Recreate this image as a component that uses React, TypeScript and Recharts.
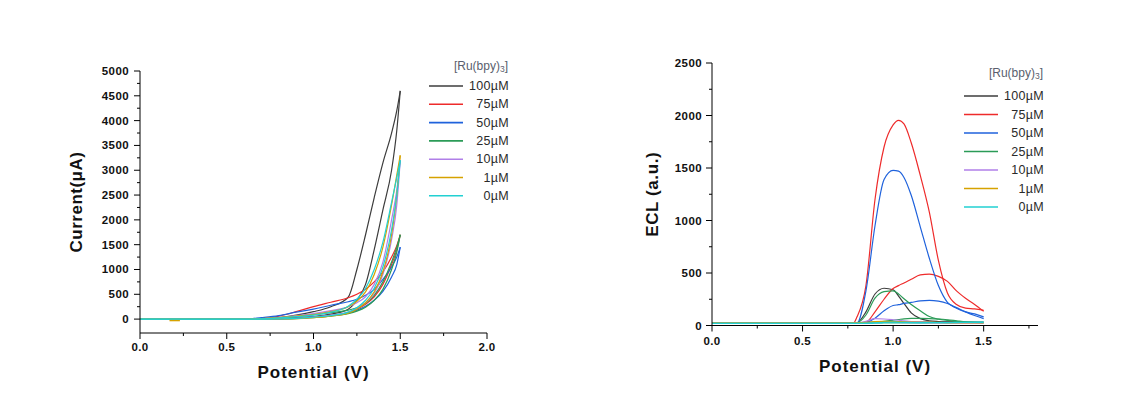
import React from 'react';
import { LineChart, Line, XAxis, YAxis } from 'recharts';

const concentrations = ['100µM', '75µM', '50µM', '25µM', '10µM', '1µM', '0µM'];
const seriesColors = ['#3c3c3c', '#ee2b2b', '#1f62dc', '#2b9b57', '#b07fe8', '#d6a200', '#22d0d2'];

// cyclic voltammograms: upper (higher current) and lower branch of each loop
const cvPotential = [0, 0.6, 0.7, 0.8, 0.9, 1.0, 1.1, 1.2, 1.25, 1.3, 1.35, 1.4, 1.45, 1.48, 1.5];
const cv100Up = [0, 0, 5, 30, 80, 150, 250, 440, 1000, 1700, 2450, 3150, 3750, 4200, 4600];
const cv100Down = [0, 0, 0, 10, 25, 50, 100, 200, 380, 700, 1400, 2200, 3000, 3800, 4600];
const cv75Up = [0, 0, 10, 60, 150, 250, 340, 430, 500, 600, 750, 950, 1250, 1480, 1700];
const cv75Down = [0, 0, 0, 10, 20, 40, 70, 130, 200, 300, 450, 700, 1100, 1400, 1700];
const cv50Up = [0, 0, 30, 70, 140, 200, 280, 350, 400, 480, 600, 800, 1050, 1250, 1450];
const cv50Down = [0, 0, 0, 10, 20, 40, 70, 120, 180, 260, 380, 560, 850, 1100, 1450];
const cv25Up = [0, 0, 0, 20, 50, 90, 130, 180, 230, 320, 480, 750, 1150, 1450, 1700];
const cv25Down = [0, 0, 0, 0, 10, 30, 60, 110, 160, 240, 380, 600, 1000, 1350, 1700];
const cv10Up = [0, 0, 5, 30, 70, 110, 170, 250, 330, 450, 700, 1150, 2000, 2600, 3200];
const cv10Down = [0, 0, 0, 5, 15, 40, 80, 140, 220, 330, 520, 900, 1600, 2300, 3200];
const cv1Up = [0, 0, 10, 30, 60, 90, 150, 250, 360, 550, 900, 1450, 2300, 2900, 3300];
const cv1Down = [0, 0, 0, 5, 10, 30, 60, 120, 200, 330, 550, 950, 1700, 2500, 3300];
const cv0Up = [0, 0, 5, 25, 50, 80, 140, 260, 400, 620, 1000, 1550, 2350, 2850, 3200];
const cv0Down = [0, 0, 0, 5, 15, 40, 70, 140, 230, 380, 620, 1050, 1800, 2500, 3200];
const cv1BlipPotential = [0.17, 0.23];
const cv1BlipCurrent = [-30, -30];

const cvPotentialTicks = [0, 0.25, 0.5, 0.75, 1.0, 1.25, 1.5, 1.75, 2.0];
const cvCurrentTicks = [0, 250, 500, 750, 1000, 1250, 1500, 1750, 2000, 2250, 2500, 2750, 3000, 3250, 3500, 3750, 4000, 4250, 4500, 4750, 5000];

// ECL: two branches (scan out and back) per concentration
const eclPotential = [0, 0.5, 0.78, 0.8, 0.85, 0.9, 0.95, 1.0, 1.03, 1.06, 1.1, 1.15, 1.2, 1.25, 1.3, 1.35, 1.4, 1.45, 1.5];
const ecl100A = [22, 22, 22, 25, 130, 300, 355, 340, 280, 210, 120, 65, 45, 38, 35, 33, 30, 30, 30];
const ecl100B = [22, 22, 22, 24, 28, 30, 32, 33, 33, 33, 33, 32, 32, 31, 30, 30, 30, 30, 30];
const ecl75A = [22, 22, 22, 80, 380, 1200, 1700, 1910, 1954, 1920, 1740, 1430, 1080, 620, 310, 200, 165, 158, 145];
const ecl75B = [22, 22, 22, 20, 30, 130, 250, 352, 380, 405, 440, 482, 490, 468, 420, 330, 260, 200, 135];
const ecl50A = [22, 22, 22, 22, 330, 950, 1390, 1478, 1470, 1410, 1240, 940, 640, 380, 220, 165, 130, 110, 82];
const ecl50B = [22, 22, 22, 22, 30, 70, 140, 190, 198, 210, 220, 235, 240, 232, 210, 170, 130, 95, 65];
const ecl25A = [22, 22, 22, 25, 100, 260, 322, 330, 300, 255, 200, 140, 85, 60, 48, 40, 35, 30, 30];
const ecl25B = [22, 22, 22, 22, 25, 35, 40, 50, 57, 64, 68, 68, 66, 62, 55, 45, 35, 30, 25];
const ecl10A = [22, 22, 22, 25, 40, 65, 62, 55, 50, 44, 38, 32, 28, 26, 25, 25, 25, 25, 25];
const ecl10B = [22, 22, 22, 22, 24, 28, 30, 30, 29, 28, 26, 25, 25, 25, 25, 25, 25, 25, 25];
const ecl1A = [24, 24, 24, 25, 30, 38, 40, 38, 36, 34, 32, 30, 30, 29, 28, 28, 28, 28, 28];
const ecl1B = [24, 24, 24, 24, 25, 27, 28, 28, 28, 28, 28, 28, 28, 28, 28, 28, 28, 28, 28];
const ecl0A = [20, 20, 20, 20, 22, 26, 30, 32, 31, 30, 28, 27, 27, 27, 28, 29, 30, 31, 32];
const ecl0B = [20, 20, 20, 20, 20, 22, 24, 25, 25, 25, 25, 25, 26, 26, 27, 28, 29, 30, 31];

const eclPotentialTicks = [0, 0.25, 0.5, 0.75, 1.0, 1.25, 1.5, 1.75];
const eclTicks = [0, 250, 500, 750, 1000, 1250, 1500, 1750, 2000, 2250, 2500];

const cvBranches = [
  [cv100Up, cv100Down],
  [cv75Up, cv75Down],
  [cv50Up, cv50Down],
  [cv25Up, cv25Down],
  [cv10Up, cv10Down],
  [cv1Up, cv1Down],
  [cv0Up, cv0Down],
];
const eclBranches = [
  [ecl100A, ecl100B],
  [ecl75A, ecl75B],
  [ecl50A, ecl50B],
  [ecl25A, ecl25B],
  [ecl10A, ecl10B],
  [ecl1A, ecl1B],
  [ecl0A, ecl0B],
];

const toPoints = (xs: number[], ys: number[]) => xs.map((x, i) => ({ x, y: ys[i] }));

const FONT = '"Liberation Sans", Arial, sans-serif';
const tickFont = { fontFamily: FONT, fontSize: 11.5, fontWeight: 700, fill: '#111', letterSpacing: 0.4 };

const isMajor = (v: number, step: number) => Math.abs(v / step - Math.round(v / step)) < 1e-6;

function makeYTick(step: number, gap: number) {
  return (props: any) => {
    const { x, y, payload } = props;
    const major = isMajor(payload.value, step);
    return (
      <g>
        <line x1={x} x2={x - (major ? 6 : 3)} y1={y} y2={y} stroke="#000" strokeWidth={1} />
        {major && (
          <text x={x - gap} y={y} textAnchor="end" dominantBaseline="central" style={tickFont}>
            {payload.value}
          </text>
        )}
      </g>
    );
  };
}

function makeXTick(step: number, gap: number) {
  return (props: any) => {
    const { x, y, payload } = props;
    const major = isMajor(payload.value, step);
    return (
      <g>
        <line x1={x} x2={x} y1={y} y2={y + (major ? 6 : 3)} stroke="#000" strokeWidth={1} />
        {major && (
          <text x={x} y={y + gap} textAnchor="middle" dominantBaseline="central" style={tickFont}>
            {payload.value.toFixed(1)}
          </text>
        )}
      </g>
    );
  };
}

function ConcLegend({ left, top, rowStart, rowGap }: { left: number; top: number; rowStart: number; rowGap: number }) {
  return (
    <svg width={110} height={170} style={{ position: 'absolute', left, top }}>
      <text x={88} y={11} textAnchor="end" dominantBaseline="central" style={{ fontFamily: FONT, fontSize: 12, fill: '#5a5f6e' }}>
        [Ru(bpy)<tspan fontSize={8.5} dy={3}>3</tspan>
        <tspan dy={-3}>]</tspan>
      </text>
      {concentrations.map((c, i) => (
        <g key={c}>
          <line x1={9} x2={43} y1={rowStart + i * rowGap} y2={rowStart + i * rowGap} stroke={seriesColors[i]} strokeWidth={1.6} />
          <text
            x={89}
            y={rowStart + i * rowGap}
            textAnchor="end"
            dominantBaseline="central"
            style={{ fontFamily: FONT, fontSize: 12.5, fill: '#2a2a2a', letterSpacing: 0.3 }}
          >
            {c}
          </text>
        </g>
      ))}
    </svg>
  );
}

const axisLabelStyle = { fontFamily: FONT, fontSize: 17, fontWeight: 700, fill: '#111' };

export default function App() {
  return (
    <div style={{ position: 'absolute', left: 0, top: 0, width: 1128, height: 403, background: '#fff', overflow: 'hidden' }}>
      <div style={{ position: 'absolute', left: 0, top: 0 }}>
        <LineChart width={560} height={403} margin={{ top: 71, right: 73, bottom: 20, left: 80 }}>
          <XAxis
            type="number"
            dataKey="x"
            domain={[0, 2]}
            ticks={cvPotentialTicks}
            interval={0}
            allowDataOverflow
            height={50}
            tickSize={0}
            tickMargin={0}
            tickLine={false}
            stroke="#000"
            tick={makeXTick(0.5, 14)}
            label={{ value: 'Potential (V)', position: 'insideBottom', offset: 5, style: { ...axisLabelStyle, letterSpacing: 1 } }}
          />
          <YAxis
            type="number"
            dataKey="y"
            domain={[-280, 5000]}
            ticks={cvCurrentTicks}
            interval={0}
            allowDataOverflow
            width={60}
            tickSize={0}
            tickMargin={0}
            tickLine={false}
            stroke="#000"
            tick={makeYTick(500, 11)}
            label={{ value: 'Current(μA)', angle: -90, position: 'insideLeft', offset: -4, style: { ...axisLabelStyle, textAnchor: 'middle', letterSpacing: 0.5 } }}
          />
          {cvBranches.map((pair, i) =>
            pair.map((ys, j) => (
              <Line
                key={`cv-${i}-${j}`}
                data={toPoints(cvPotential, ys)}
                dataKey="y"
                type="monotone"
                stroke={seriesColors[i]}
                strokeWidth={1.2}
                dot={false}
                isAnimationActive={false}
              />
            ))
          )}
          <Line
            data={toPoints(cv1BlipPotential, cv1BlipCurrent)}
            dataKey="y"
            type="linear"
            stroke={seriesColors[5]}
            strokeWidth={1.4}
            dot={false}
            isAnimationActive={false}
          />
        </LineChart>
      </div>
      <ConcLegend left={420} top={55} rowStart={31} rowGap={18.3} />

      <div style={{ position: 'absolute', left: 560, top: 0 }}>
        <LineChart width={568} height={403} margin={{ top: 63, right: 90, bottom: 27.5, left: 92 }}>
          <XAxis
            type="number"
            dataKey="x"
            domain={[0, 1.8]}
            ticks={eclPotentialTicks}
            interval={0}
            allowDataOverflow
            height={50}
            tickSize={0}
            tickMargin={0}
            tickLine={false}
            stroke="#000"
            tick={makeXTick(0.5, 15)}
            label={{ value: 'Potential (V)', position: 'insideBottom', offset: 3.5, style: { ...axisLabelStyle, letterSpacing: 1 } }}
          />
          <YAxis
            type="number"
            dataKey="y"
            domain={[0, 2500]}
            ticks={eclTicks}
            interval={0}
            allowDataOverflow
            width={60}
            tickSize={0}
            tickMargin={0}
            tickLine={false}
            stroke="#000"
            tick={makeYTick(500, 10)}
            label={{ value: 'ECL (a.u.)', angle: -90, position: 'insideLeft', offset: 0, style: { ...axisLabelStyle, textAnchor: 'middle', letterSpacing: 0.6 } }}
          />
          {eclBranches.map((pair, i) =>
            pair.map((ys, j) => (
              <Line
                key={`ecl-${i}-${j}`}
                data={toPoints(eclPotential, ys)}
                dataKey="y"
                type="monotone"
                stroke={seriesColors[i]}
                strokeWidth={1.2}
                dot={false}
                isAnimationActive={false}
              />
            ))
          )}
        </LineChart>
      </div>
      <ConcLegend left={955} top={62} rowStart={34} rowGap={18.5} />
    </div>
  );
}
